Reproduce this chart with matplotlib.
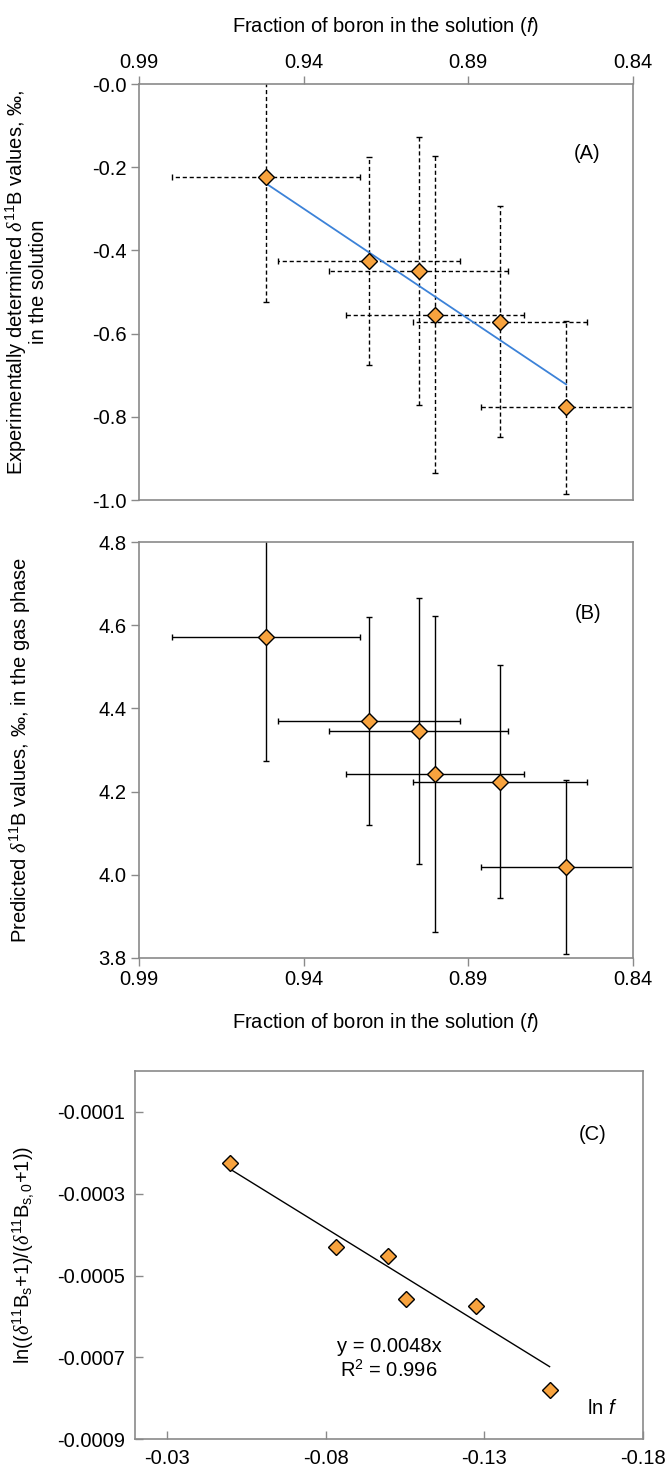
import numpy as np
import matplotlib
matplotlib.use('Agg')
import matplotlib.pyplot as plt

plt.rcParams['font.family'] = ['Liberation Sans', 'DejaVu Sans']
plt.rcParams['mathtext.fontset'] = 'custom'
plt.rcParams['mathtext.rm'] = 'Liberation Sans'
plt.rcParams['mathtext.it'] = 'Liberation Serif:italic'
plt.rcParams['mathtext.sf'] = 'Liberation Sans:italic'

# fraction of boron left in the solution
f_sol = [0.9514, 0.9202, 0.9051, 0.9001, 0.8804, 0.8603]
f_err = [0.0285, 0.0276, 0.0272, 0.0271, 0.0264, 0.0260]

# (A) measured d11B in the solution
d_sol = [-0.223, -0.4255, -0.450, -0.554, -0.571, -0.777]
d_sol_err = [0.300, 0.250, 0.322, 0.380, 0.278, 0.208]

# (B) predicted d11B in the gas phase
d_gas = [4.573, 4.370, 4.346, 4.2415, 4.224, 4.018]
d_gas_err = [0.299, 0.250, 0.320, 0.380, 0.281, 0.210]

# (C) ln f vs ln ratio
ln_f = [-0.0498, -0.0832, -0.0997, -0.1052, -0.1274, -0.1505]
ln_ratio = [-0.000225, -0.000429, -0.000453, -0.000556, -0.000573, -0.000780]
fit_slope = 0.0048
fit_r2 = 0.996

orange = '#F8A33E'
grey = '#8a8a8a'
fs = 14.5
ms = 8.5

fig = plt.figure(figsize=(6.67, 14.72), dpi=100)
axA = fig.add_axes([0.2084, 0.6603, 0.9490 - 0.2084, 0.9429 - 0.6603])
axB = fig.add_axes([0.2084, 0.3494, 0.9490 - 0.2084, 0.6316 - 0.3494])
axC = fig.add_axes([0.2024, 0.0222, 0.9645 - 0.2024, 0.2724 - 0.0222])


def style_axes(ax, direction):
    for sp in ax.spines.values():
        sp.set_color(grey)
        sp.set_linewidth(1.2)
    ax.tick_params(colors=grey, labelcolor='black', labelsize=fs, direction=direction,
                   length=5.5, width=1.0)


def ylabel_at(ax, x_px, text, dy_px=0):
    # rotated label placed at a pixel column, centred on the axes
    bb = ax.get_position()
    fig.text(x_px / 667.0, (bb.y0 + bb.y1) / 2 + dy_px / 1472.0, text, rotation=90,
             ha='center', va='center', fontsize=fs)


# ---- panel A
eb = axA.errorbar(f_sol, d_sol, xerr=f_err, yerr=d_sol_err, fmt='none', ecolor='black',
                  elinewidth=1.0, capsize=2.5, capthick=1.0)
for lc in eb[2]:
    lc.set_linestyle((0, (3, 2)))
f_line = np.array([f_sol[0], f_sol[-1]])
axA.plot(f_line, 1000 * (f_line ** fit_slope - 1), color='#3C82D8', lw=1.3, zorder=3)
axA.plot(f_sol, d_sol, 'D', ms=ms, mfc=orange, mec='black', mew=1.0, zorder=4)
axA.set_xlim(0.99, 0.84)
axA.set_ylim(-1.0, 0.0)
axA.set_xticks([0.99, 0.94, 0.89, 0.84])
axA.set_yticks(np.arange(-1.0, 0.01, 0.2))
axA.yaxis.set_major_formatter(matplotlib.ticker.FormatStrFormatter('%.1f'))
axA.xaxis.set_major_formatter(matplotlib.ticker.FormatStrFormatter('%.2f'))
axA.xaxis.tick_top()
axA.xaxis.set_label_position('top')
style_axes(axA, 'out')
axA.set_xlabel(r'Fraction of boron in the solution ($\mathsf{f}$)', fontsize=fs, labelpad=15)
ylabel_at(axA, 16, 'Experimentally determined $\\delta^{11}$B values, \u2030,', dy_px=10)
ylabel_at(axA, 38, 'in the solution', dy_px=10)
axA.text(0.908, 0.833, '(A)', transform=axA.transAxes, fontsize=fs, ha='center', va='center')

# ---- panel B
axB.errorbar(f_sol, d_gas, xerr=f_err, yerr=d_gas_err, fmt='none', ecolor='black',
             elinewidth=1.0, capsize=2.5, capthick=1.0)
axB.plot(f_sol, d_gas, 'D', ms=ms, mfc=orange, mec='black', mew=1.0, zorder=4)
axB.set_xlim(0.99, 0.84)
axB.set_ylim(3.8, 4.8)
axB.set_xticks([0.99, 0.94, 0.89, 0.84])
axB.set_yticks(np.arange(3.8, 4.81, 0.2))
axB.yaxis.set_major_formatter(matplotlib.ticker.FormatStrFormatter('%.1f'))
axB.xaxis.set_major_formatter(matplotlib.ticker.FormatStrFormatter('%.2f'))
style_axes(axB, 'out')
axB.set_xlabel(r'Fraction of boron in the solution ($\mathsf{f}$)', fontsize=fs, labelpad=16)
ylabel_at(axB, 20, 'Predicted $\\delta^{11}$B values, \u2030, in the gas phase')
axB.text(0.909, 0.829, '(B)', transform=axB.transAxes, fontsize=fs, ha='center', va='center')

# ---- panel C
x_line = np.array([ln_f[0], ln_f[-1]])
axC.plot(x_line, fit_slope * x_line, color='black', lw=1.0, zorder=2)
axC.plot(ln_f, ln_ratio, 'D', ms=ms, mfc=orange, mec='black', mew=1.0, zorder=4)
axC.set_xlim(-0.02, -0.18)
axC.set_ylim(-0.0009, 0.0)
axC.set_xticks([-0.03, -0.08, -0.13, -0.18])
axC.set_yticks([-0.0009, -0.0007, -0.0005, -0.0003, -0.0001])
axC.yaxis.set_major_formatter(matplotlib.ticker.FormatStrFormatter('%.4f'))
axC.xaxis.set_major_formatter(matplotlib.ticker.FormatStrFormatter('%.2f'))
style_axes(axC, 'in')
axC.tick_params(pad=7)
ylabel_at(axC, 24, r'ln(($\delta^{11}$B$_{\rm s}$+1)/($\delta^{11}$B$_{\rm s,0}$+1))')
axC.text(0.90, 0.827, '(C)', transform=axC.transAxes, fontsize=fs, ha='center', va='center')
axC.text(0.50, 0.251, 'y = %.4fx' % fit_slope, transform=axC.transAxes, fontsize=fs,
         ha='center', va='center')
axC.text(0.50, 0.188, r'R$^2$ = %.3f' % fit_r2, transform=axC.transAxes, fontsize=fs,
         ha='center', va='center')
axC.text(0.92, 0.083, r'ln $\mathsf{f}$', transform=axC.transAxes, fontsize=fs,
         ha='center', va='center')

plt.savefig('out.png', dpi=100)
